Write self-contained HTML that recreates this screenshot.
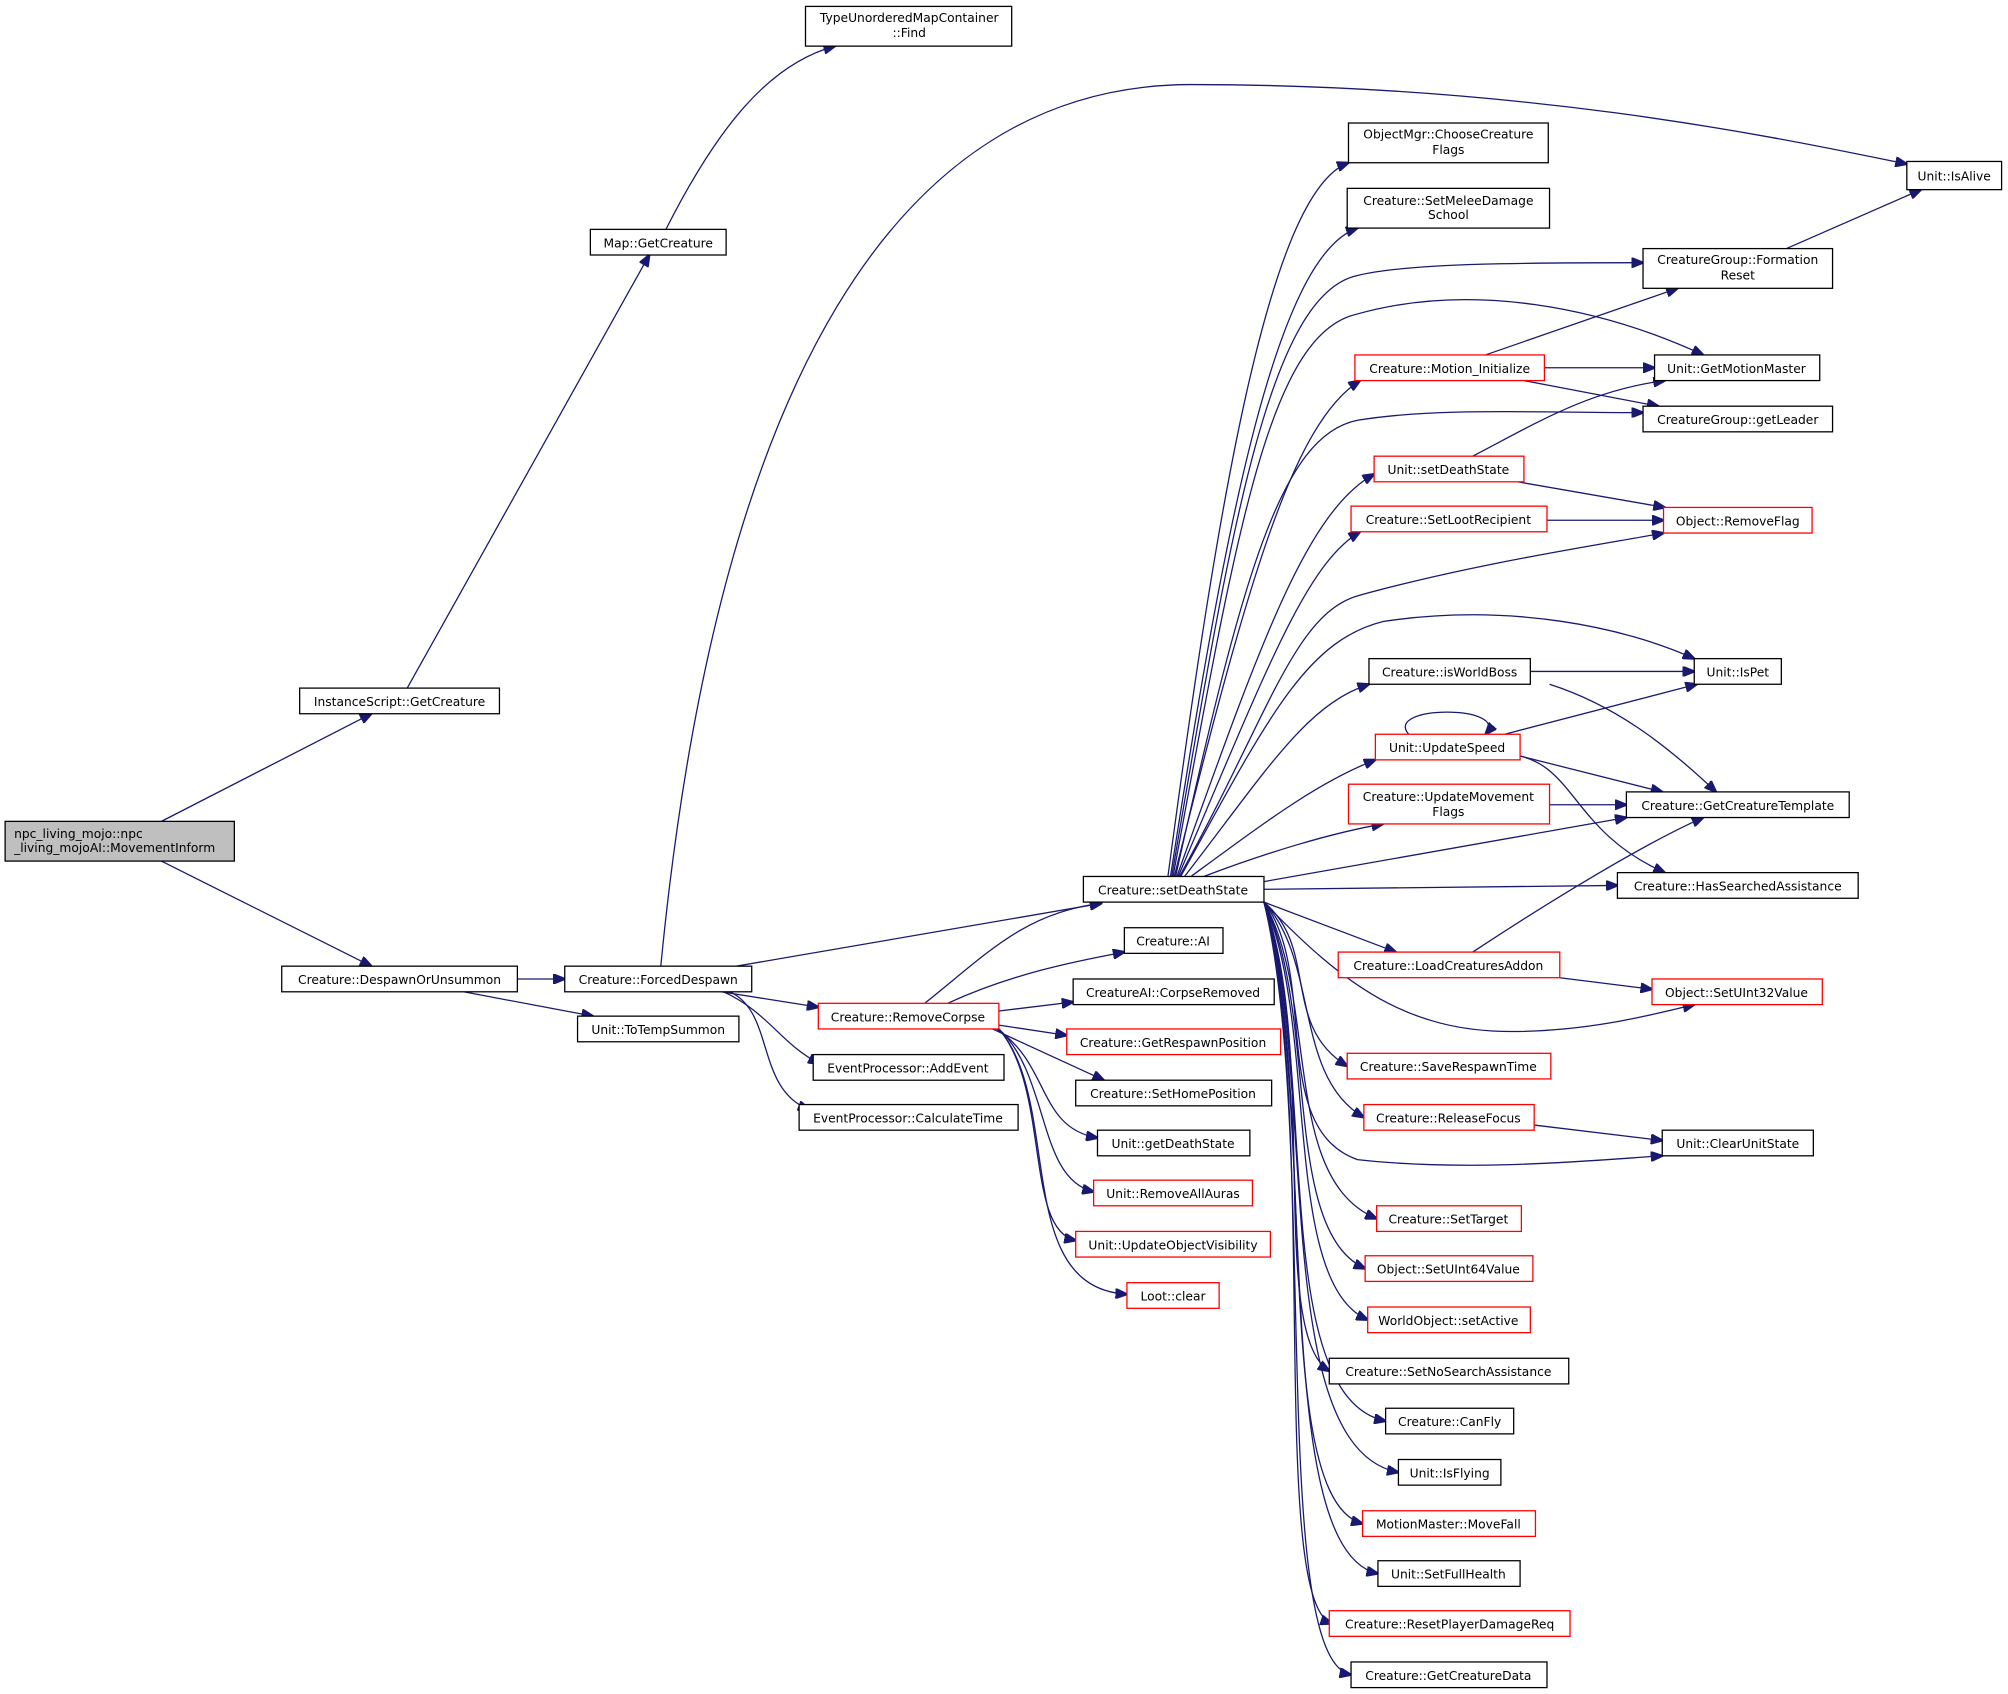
<!DOCTYPE html>
<html><head><meta charset="utf-8"><style>
html,body{margin:0;padding:0;background:#fff;width:2008px;height:1694px;overflow:hidden}
svg{display:block}
text{font-family:"DejaVu Sans","Liberation Sans",sans-serif;font-size:9.6px;fill:#000;text-anchor:middle}
.n{fill:#fff;stroke:#000;stroke-width:1}
.r{fill:#fff;stroke:#ff0000;stroke-width:1}
.e{fill:none;stroke:#191970;stroke-width:1;marker-end:url(#a)}
</style></head><body>
<svg width="2008" height="1694" viewBox="0 0 1568 1322" preserveAspectRatio="none">
<defs><marker id="a" markerWidth="10" markerHeight="8" refX="9" refY="4" orient="auto" markerUnits="userSpaceOnUse"><path d="M0,0 L10,4 L0,8 z" fill="#191970" stroke="#191970"/></marker></defs>
<g>
<path class="e" d="M126,641 L290,557"/>
<path class="e" d="M126,672 L290,754"/>
<path class="e" d="M318,537 L507,199"/>
<path class="e" d="M520,179 C560,100 600,50 652,36"/>
<path class="e" d="M404,764 L441,764"/>
<path class="e" d="M362,774 L463,793"/>
<path class="e" d="M516,754 C560,300 700,66 930,66 C1200,66 1400,110 1489,128"/>
<path class="e" d="M575,754 L860,705"/>
<path class="e" d="M563,774 L639,786"/>
<path class="e" d="M565,774 C600,790 610,815 640,830"/>
<path class="e" d="M570,774 C605,790 590,850 632,866"/>
<path class="e" d="M722,783 C770,745 800,712 860,705"/>
<path class="e" d="M740,783 C790,760 840,750 878,743"/>
<path class="e" d="M780,789 L838,782"/>
<path class="e" d="M780,800 L833,808"/>
<path class="e" d="M775,803 L862,843"/>
<path class="e" d="M778,803 C820,830 810,880 857,888"/>
<path class="e" d="M780,803 C820,840 810,920 854,930"/>
<path class="e" d="M780,803 C820,850 800,960 840,968"/>
<path class="e" d="M780,803 C830,860 790,1005 880,1010"/>
<path class="e" d="M912,684 C950,400 990,150 1053,127"/>
<path class="e" d="M914,684 C955,420 995,200 1060,178"/>
<path class="e" d="M915,684 C960,420 990,230 1060,215 C1100,205 1200,205 1283,205"/>
<path class="e" d="M916,684 C965,420 990,260 1060,245 C1150,220 1250,240 1330,277"/>
<path class="e" d="M917,684 C975,450 1010,330 1062,297"/>
<path class="e" d="M918,684 C970,450 1000,340 1060,328 C1120,318 1200,322 1283,322"/>
<path class="e" d="M919,684 C985,500 1020,400 1073,370"/>
<path class="e" d="M920,684 C990,520 1020,440 1062,415"/>
<path class="e" d="M921,684 C990,560 1010,480 1060,465 C1150,440 1250,425 1299,416"/>
<path class="e" d="M922,684 C990,560 1020,500 1080,485 C1180,470 1270,490 1323,514"/>
<path class="e" d="M925,684 C990,600 1020,550 1069,534"/>
<path class="e" d="M930,684 C990,640 1030,610 1074,593"/>
<path class="e" d="M940,684 C990,665 1040,650 1080,643"/>
<path class="e" d="M987,688 L1270,638"/>
<path class="e" d="M987,694 L1263,691"/>
<path class="e" d="M987,704 L1090,743"/>
<path class="e" d="M987,704 C1050,770 1100,805 1180,805 C1240,805 1290,792 1323,784"/>
<path class="e" d="M987,704 C1030,740 1000,800 1052,832"/>
<path class="e" d="M987,704 C1030,750 1010,840 1065,872"/>
<path class="e" d="M987,704 C1030,760 990,880 1060,905 C1150,915 1250,905 1298,902"/>
<path class="e" d="M987,704 C1030,780 1000,920 1075,951"/>
<path class="e" d="M987,704 C1030,790 1000,960 1066,990"/>
<path class="e" d="M987,704 C1030,800 1000,1000 1068,1030"/>
<path class="e" d="M987,704 C1030,820 990,1040 1038,1070"/>
<path class="e" d="M987,704 C1030,830 990,1090 1082,1109"/>
<path class="e" d="M987,704 C1030,840 990,1130 1092,1149"/>
<path class="e" d="M987,704 C1030,850 990,1170 1064,1189"/>
<path class="e" d="M987,704 C1030,860 990,1210 1076,1228"/>
<path class="e" d="M987,704 C1030,870 990,1250 1040,1267"/>
<path class="e" d="M987,704 C1030,880 990,1295 1055,1307"/>
<path class="e" d="M1160,277 L1310,225"/>
<path class="e" d="M1206,287 L1292,287"/>
<path class="e" d="M1190,297 L1295,317"/>
<path class="e" d="M1150,356 C1200,330 1240,305 1300,297"/>
<path class="e" d="M1185,376 L1300,396"/>
<path class="e" d="M1208,406 L1299,406"/>
<path class="e" d="M1395,194 L1500,148"/>
<path class="e" d="M1195,524 L1323,524"/>
<path class="e" d="M1210,534 C1260,550 1300,580 1340,618"/>
<path class="e" d="M1100,573 C1080,550 1180,550 1160,573"/>
<path class="e" d="M1175,573 L1325,534"/>
<path class="e" d="M1187,590 L1298,618"/>
<path class="e" d="M1187,590 C1230,600 1230,650 1300,681"/>
<path class="e" d="M1210,628 L1270,628"/>
<path class="e" d="M1150,743 C1200,710 1280,660 1330,638"/>
<path class="e" d="M1218,763 L1290,772"/>
<path class="e" d="M1198,878 L1298,890"/>
</g>
<g>
<rect x="4" y="641" width="179" height="31" fill="#bfbfbf" stroke="#000"/><text x="93" y="654" style="text-anchor:start" transform="translate(-82,0)">npc_living_mojo::npc</text><text x="11" y="665" style="text-anchor:start">_living_mojoAI::MovementInform</text>
<rect class="n" x="234" y="537" width="156" height="20"/><text x="312" y="551">InstanceScript::GetCreature</text>
<rect class="n" x="461" y="179" width="106" height="20"/><text x="514" y="193">Map::GetCreature</text>
<rect class="n" x="629" y="5" width="161" height="31"/><text x="710" y="17">TypeUnorderedMapContainer</text><text x="710" y="29">::Find</text>
<rect class="n" x="220" y="754" width="184" height="20"/><text x="312" y="768">Creature::DespawnOrUnsummon</text>
<rect class="n" x="441" y="754" width="146" height="20"/><text x="514" y="768">Creature::ForcedDespawn</text>
<rect class="n" x="451" y="793" width="126" height="20"/><text x="514" y="807">Unit::ToTempSummon</text>
<rect class="n" x="846" y="684" width="141" height="20"/><text x="916" y="698">Creature::setDeathState</text>
<rect class="n" x="878" y="724" width="77" height="20"/><text x="916" y="738">Creature::AI</text>
<rect class="n" x="838" y="764" width="157" height="20"/><text x="916" y="778">CreatureAI::CorpseRemoved</text>
<rect class="r" x="639" y="783" width="141" height="20"/><text x="709" y="797">Creature::RemoveCorpse</text>
<rect class="r" x="833" y="803" width="167" height="20"/><text x="916" y="817">Creature::GetRespawnPosition</text>
<rect class="n" x="635" y="823" width="149" height="20"/><text x="709" y="837">EventProcessor::AddEvent</text>
<rect class="n" x="840" y="843" width="153" height="20"/><text x="916" y="857">Creature::SetHomePosition</text>
<rect class="n" x="624" y="862" width="171" height="20"/><text x="709" y="876">EventProcessor::CalculateTime</text>
<rect class="n" x="857" y="882" width="119" height="20"/><text x="916" y="896">Unit::getDeathState</text>
<rect class="r" x="854" y="921" width="124" height="20"/><text x="916" y="935">Unit::RemoveAllAuras</text>
<rect class="r" x="840" y="961" width="152" height="20"/><text x="916" y="975">Unit::UpdateObjectVisibility</text>
<rect class="r" x="880" y="1001" width="72" height="20"/><text x="916" y="1015">Loot::clear</text>
<rect class="n" x="1053" y="96" width="156" height="31"/><text x="1131" y="108">ObjectMgr::ChooseCreature</text><text x="1131" y="120">Flags</text>
<rect class="n" x="1052" y="147" width="158" height="31"/><text x="1131" y="160">Creature::SetMeleeDamage</text><text x="1131" y="171">School</text>
<rect class="r" x="1058" y="277" width="148" height="20"/><text x="1132" y="291">Creature::Motion_Initialize</text>
<rect class="r" x="1073" y="356" width="117" height="20"/><text x="1131" y="370">Unit::setDeathState</text>
<rect class="r" x="1055" y="395" width="153" height="20"/><text x="1131" y="409">Creature::SetLootRecipient</text>
<rect class="n" x="1069" y="514" width="126" height="20"/><text x="1132" y="528">Creature::isWorldBoss</text>
<rect class="r" x="1074" y="573" width="113" height="20"/><text x="1130" y="587">Unit::UpdateSpeed</text>
<rect class="r" x="1053" y="612" width="157" height="31"/><text x="1131" y="625">Creature::UpdateMovement</text><text x="1131" y="637">Flags</text>
<rect class="r" x="1045" y="743" width="173" height="20"/><text x="1131" y="757">Creature::LoadCreaturesAddon</text>
<rect class="r" x="1052" y="822" width="159" height="20"/><text x="1131" y="836">Creature::SaveRespawnTime</text>
<rect class="r" x="1065" y="862" width="133" height="20"/><text x="1131" y="876">Creature::ReleaseFocus</text>
<rect class="r" x="1075" y="941" width="113" height="20"/><text x="1131" y="955">Creature::SetTarget</text>
<rect class="r" x="1066" y="980" width="131" height="20"/><text x="1131" y="994">Object::SetUInt64Value</text>
<rect class="r" x="1068" y="1020" width="127" height="20"/><text x="1131" y="1034">WorldObject::setActive</text>
<rect class="n" x="1038" y="1060" width="187" height="20"/><text x="1131" y="1074">Creature::SetNoSearchAssistance</text>
<rect class="n" x="1082" y="1099" width="100" height="20"/><text x="1132" y="1113">Creature::CanFly</text>
<rect class="n" x="1092" y="1139" width="80" height="20"/><text x="1132" y="1153">Unit::IsFlying</text>
<rect class="r" x="1064" y="1179" width="135" height="20"/><text x="1131" y="1193">MotionMaster::MoveFall</text>
<rect class="n" x="1076" y="1218" width="111" height="20"/><text x="1131" y="1232">Unit::SetFullHealth</text>
<rect class="r" x="1038" y="1257" width="188" height="20"/><text x="1132" y="1271">Creature::ResetPlayerDamageReq</text>
<rect class="n" x="1055" y="1297" width="153" height="20"/><text x="1131" y="1311">Creature::GetCreatureData</text>
<rect class="n" x="1489" y="126" width="74" height="22"/><text x="1526" y="141">Unit::IsAlive</text>
<rect class="n" x="1283" y="194" width="148" height="31"/><text x="1357" y="206">CreatureGroup::Formation</text><text x="1357" y="218">Reset</text>
<rect class="n" x="1292" y="277" width="129" height="20"/><text x="1356" y="291">Unit::GetMotionMaster</text>
<rect class="n" x="1283" y="317" width="148" height="20"/><text x="1357" y="331">CreatureGroup::getLeader</text>
<rect class="r" x="1299" y="396" width="116" height="20"/><text x="1357" y="410">Object::RemoveFlag</text>
<rect class="n" x="1323" y="514" width="68" height="20"/><text x="1357" y="528">Unit::IsPet</text>
<rect class="n" x="1270" y="618" width="174" height="20"/><text x="1357" y="632">Creature::GetCreatureTemplate</text>
<rect class="n" x="1263" y="681" width="188" height="20"/><text x="1357" y="695">Creature::HasSearchedAssistance</text>
<rect class="r" x="1290" y="764" width="133" height="20"/><text x="1356" y="778">Object::SetUInt32Value</text>
<rect class="n" x="1298" y="882" width="118" height="20"/><text x="1357" y="896">Unit::ClearUnitState</text>
</g>
</svg>
</body></html>
